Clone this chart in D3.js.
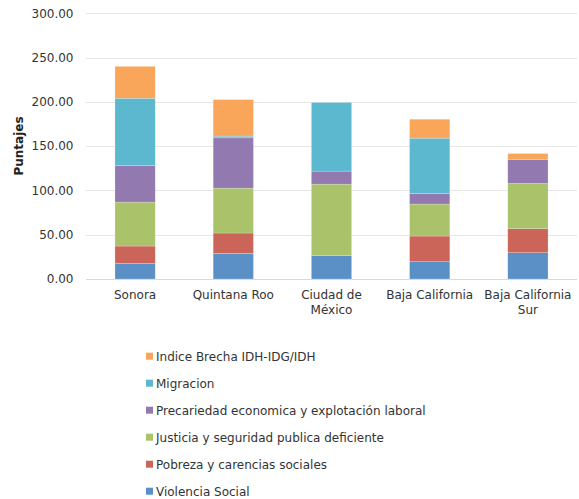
<!DOCTYPE html>
<html><head><meta charset="utf-8">
<script src="https://cdn.jsdelivr.net/npm/d3@7"></script>
<style>body{margin:0;background:#fff}svg{display:block;font-family:"DejaVu Sans",Verdana,sans-serif}</style>
</head><body><svg id="c" width="579" height="499"></svg>
<script>
const categories = ["Sonora", "Quintana Roo", "Ciudad de México", "Baja California", "Baja California Sur"];
const categoryLines = [["Sonora"], ["Quintana Roo"], ["Ciudad de", "México"], ["Baja California"], ["Baja California", "Sur"]];
const seriesNames = ["Violencia Social", "Pobreza y carencias sociales", "Justicia y seguridad publica deficiente", "Precariedad economica y explotación laboral", "Migracion", "Indice Brecha IDH-IDG/IDH"];
const seriesColors = ["#5b90c6", "#cb6459", "#aac26a", "#9279b0", "#5bb8cf", "#f9a65a"];
const violencia = [17.7, 29.0, 26.3, 19.5, 29.7];
const pobreza = [19.5, 22.9, 0, 29.0, 27.1];
const justicia = [49.6, 50.7, 80.8, 36.1, 51.1];
const precariedad = [41.4, 56.8, 14.7, 12.0, 27.1];
const migracion = [75.9, 1.9, 77.5, 62.4, 0];
const indice = [36.0, 41.3, 0, 21.4, 6.7];
const yTicks = [0, 50, 100, 150, 200, 250, 300];

const seriesValues = [violencia, pobreza, justicia, precariedad, migracion, indice];
const rows = categories.map((c, i) => {
  const r = {cat: c};
  seriesNames.forEach((s, j) => r[s] = seriesValues[j][i]);
  return r;
});
const stacked = d3.stack().keys(seriesNames)(rows);

const svg = d3.select("#c");
const x = d3.scaleBand().domain(categories).range([86, 577]).paddingInner(0.59).paddingOuter(0.295);
const y = d3.scaleLinear().domain([0, 300]).range([279, 13.3]);

// gridlines
svg.append("g").selectAll("line").data(yTicks).join("line")
  .attr("x1", 86).attr("x2", 577)
  .attr("y1", d => Math.round(y(d)) + 0.5).attr("y2", d => Math.round(y(d)) + 0.5)
  .attr("stroke", d => d === 0 ? "#d9d9d9" : "#e6e6e6").attr("stroke-width", 1);

// y axis labels
const yAxis = d3.axisLeft(y).tickValues(yTicks).tickFormat(d3.format(".2f")).tickSize(0).tickPadding(0);
const ya = svg.append("g").attr("transform", "translate(73.5,0)").call(yAxis);
ya.select(".domain").remove();
ya.selectAll("text").attr("font-size", 12).attr("fill", "#333").attr("font-family", "DejaVu Sans, Verdana, sans-serif");

svg.append("text").attr("transform", "translate(23,146) rotate(-90)")
  .attr("text-anchor", "middle").attr("font-size", 12).attr("font-weight", "bold").attr("fill", "#222")
  .text("Puntajes");

// bars
svg.append("g").selectAll("g").data(stacked).join("g")
  .attr("fill", (d, i) => seriesColors[i])
  .selectAll("rect").data(d => d).join("rect")
  .attr("x", d => x(d.data.cat))
  .attr("width", x.bandwidth())
  .attr("y", d => y(d[1]))
  .attr("height", d => Math.max(0, y(d[0]) - y(d[1])))
  .attr("stroke", "rgba(255,255,255,0.35)").attr("stroke-width", 0.6);

// x labels
const xl = svg.append("g").selectAll("text").data(categories).join("text")
  .attr("x", d => x(d) + x.bandwidth() / 2).attr("y", 299)
  .attr("text-anchor", "middle").attr("font-size", 12).attr("fill", "#333");
xl.each(function(d, i) {
  const t = d3.select(this);
  categoryLines[i].forEach((ln, k) => t.append("tspan").attr("x", x(d) + x.bandwidth() / 2).attr("dy", k === 0 ? 0 : 14.5).text(ln));
});

// legend (reverse order)
const legendOrder = seriesNames.map((s, i) => i).reverse();
const lg = svg.append("g").selectAll("g").data(legendOrder).join("g")
  .attr("transform", (d, k) => `translate(146,${356.7 + k * 27})`);
lg.append("rect").attr("x", 0).attr("y", -4).attr("width", 7).attr("height", 7).attr("fill", d => seriesColors[d]);
lg.append("text").attr("x", 10).attr("y", 4.3).attr("font-size", 12).attr("fill", "#333").text(d => seriesNames[d]);
</script></body></html>
